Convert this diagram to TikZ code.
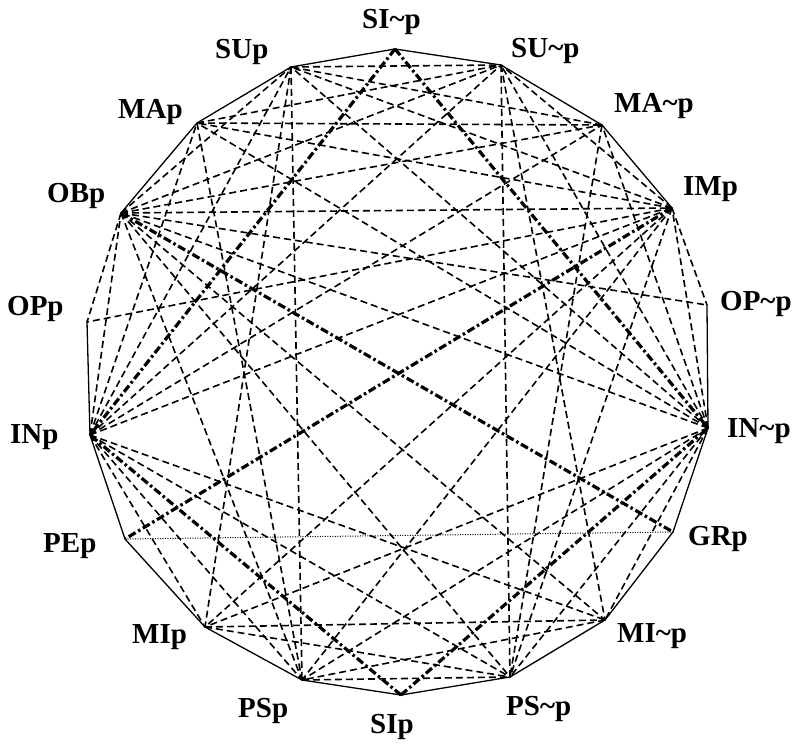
\documentclass[tikz,border=0pt]{standalone}
\usepackage{fontspec}
\setmainfont{Liberation Serif}
\begin{document}
\begin{tikzpicture}[x=1pt,y=-1pt,
  frame/.style={line width=1.3pt,line cap=round,line join=round},
  contrary/.style={line width=1.6pt,dash pattern=on 7pt off 4pt},
  contradict/.style={line width=3.2pt,dash pattern=on 8pt off 3pt on 2.5pt off 3pt},
  subcontrary/.style={line width=1pt,dash pattern=on 1pt off 1.5pt},
  lab/.style={inner sep=0pt,anchor=base west,font=\fontsize{29}{29}\selectfont\bfseries}]
\useasboundingbox (0,0) rectangle (796,744);
% vertices
\coordinate (v0) at (395,49);
\coordinate (v1) at (501,65);
\coordinate (v2) at (602,125);
\coordinate (v3) at (672,208);
\coordinate (v4) at (707,305);
\coordinate (v5) at (708,428);
\coordinate (v6) at (673,532);
\coordinate (v7) at (605,620);
\coordinate (v8) at (510,677);
\coordinate (v9) at (401,695);
\coordinate (v10) at (302,680);
\coordinate (v11) at (205,627);
\coordinate (v12) at (125,539);
\coordinate (v13) at (90,435);
\coordinate (v14) at (87,322);
\coordinate (v15) at (121,213);
\coordinate (v16) at (197,123);
\coordinate (v17) at (291,67);
% labels
\node[lab] (L0) at (362,28) {SI\char`\~p};
\node[lab] (L1) at (511,57) {SU\char`\~p};
\node[lab] (L2) at (614,112) {MA\char`\~p};
\node[lab] (L3) at (683,195) {IMp};
\node[lab] (L4) at (720,310) {OP\char`\~p};
\node[lab] (L5) at (727,437) {IN\char`\~p};
\node[lab] (L6) at (688,545) {GRp};
\node[lab] (L7) at (617,642) {MI\char`\~p};
\node[lab] (L8) at (506,715) {PS\char`\~p};
\node[lab] (L9) at (370,733) {SIp};
\node[lab] (L10) at (238,717) {PSp};
\node[lab] (L11) at (132,643) {MIp};
\node[lab] (L12) at (43,552) {PEp};
\node[lab] (L13) at (10,443) {INp};
\node[lab] (L14) at (7,315) {OPp};
\node[lab] (L15) at (47,202) {OBp};
\node[lab] (L16) at (118,118) {MAp};
\node[lab] (L17) at (215,58) {SUp};
% frame (solid polygon edges)
\foreach \a/\b in {0/1,1/2,2/3,4/5,5/6,6/7,7/8,8/9,9/10,10/11,11/12,12/13,13/14,15/16,16/17,17/0}
  \draw[frame] (v\a) -- (v\b);
% contraries
\foreach \a/\b in {5/1,5/17,5/2,5/16,5/3,5/15,5/7,5/11,5/8,5/10,
  13/1,13/17,13/2,13/16,13/3,13/15,13/7,13/11,13/8,13/10,
  15/1,15/17,15/2,15/3,15/4,15/14,15/7,15/8,15/10,
  3/17,3/1,3/16,3/14,3/4,3/11,3/10,3/8,
  16/1,16/2,16/10,2/17,2/8,17/1,17/11,17/10,1/7,1/8,11/7,11/8,7/10,10/8}
  \draw[contrary] (v\a) -- (v\b);
% subcontrary
\draw[subcontrary] (v12) -- (v6);
% contradictories
\foreach \a/\b in {0/13,0/5,9/13,9/5,15/6,3/12}
  \draw[contradict] (v\a) -- (v\b);
\end{tikzpicture}
\end{document}
